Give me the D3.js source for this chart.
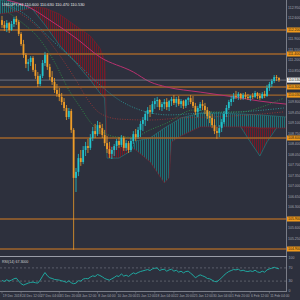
<!DOCTYPE html>
<html>
<head>
<meta charset="utf-8">
<script src="https://cdn.jsdelivr.net/npm/d3@7"></script>
<style>
html, body { margin: 0; padding: 0; background: #2d303d; }
svg { display: block; }
text { font-family: "Liberation Sans", Arial, sans-serif; }
</style>
</head>
<body>
<svg id="main_svg" width="300" height="300"></svg>
<script>
// USDJPY H4 (one entry = two H4 bars): open, high, low, close
const candles = [
  [112.53,112.67,112.27,112.37],[112.37,112.50,112.17,112.27],[112.27,112.53,112.13,112.43],[112.43,112.47,112.10,112.20],
  [112.20,112.50,112.17,112.40],[112.40,112.63,112.30,112.57],[112.57,112.67,112.37,112.47],[112.47,112.53,112.00,112.07],
  [112.07,112.13,111.67,111.73],[111.73,111.87,111.27,111.37],[111.37,111.43,110.93,111.07],[111.07,111.23,110.83,111.13],
  [111.13,111.33,111.00,111.27],[111.27,111.33,110.80,110.87],[110.87,111.07,110.57,110.67],[110.67,110.80,110.30,110.40],
  [110.40,110.73,110.33,110.67],[110.67,111.20,110.60,111.10],[111.10,111.47,111.00,111.37],[111.37,111.43,110.87,110.97],
  [110.97,111.07,110.53,110.63],[110.63,110.83,110.37,110.47],[110.47,110.60,110.10,110.20],[110.20,110.40,109.97,110.07],
  [110.07,110.27,109.83,109.97],[109.97,110.10,109.70,109.80],[109.80,109.93,109.50,109.60],[109.60,109.70,109.20,109.30],
  [109.30,109.60,109.23,109.50],[109.50,109.57,108.77,108.87],[108.87,108.93,104.87,107.27],[107.27,107.60,106.80,107.47],
  [107.47,108.07,107.33,107.93],[107.93,108.20,107.67,107.80],[107.80,108.33,107.73,108.20],[108.20,108.47,108.00,108.33],
  [108.33,108.57,108.10,108.27],[108.27,108.73,108.20,108.60],[108.60,108.97,108.50,108.83],[108.83,109.07,108.60,108.73],
  [108.73,109.17,108.67,109.03],[109.03,109.13,108.73,108.93],[108.93,109.07,108.60,108.70],[108.70,108.87,108.33,108.43],
  [108.43,108.67,108.10,108.23],[108.23,108.47,107.93,108.07],[108.07,108.30,107.90,108.20],[108.20,108.40,108.00,108.33],
  [108.33,108.57,108.20,108.50],[108.50,108.63,108.27,108.37],[108.37,108.70,108.30,108.60],[108.60,108.67,108.17,108.27],
  [108.27,108.53,108.17,108.43],[108.43,108.50,108.10,108.20],[108.20,108.60,108.13,108.50],[108.50,108.83,108.40,108.73],
  [108.73,108.90,108.50,108.63],[108.63,108.97,108.57,108.87],[108.87,109.17,108.63,109.07],[109.07,109.30,108.83,109.20],
  [109.20,109.50,109.00,109.40],[109.40,109.63,109.17,109.53],[109.53,109.70,109.30,109.47],[109.47,109.83,109.40,109.73],
  [109.73,109.93,109.57,109.83],[109.83,109.97,109.63,109.87],[109.87,109.90,109.53,109.63],[109.63,109.80,109.50,109.73],
  [109.73,109.90,109.57,109.80],[109.80,109.93,109.53,109.63],[109.63,109.87,109.50,109.83],[109.83,109.97,109.67,109.90],
  [109.90,110.03,109.70,109.77],[109.77,109.97,109.63,109.90],[109.90,110.00,109.67,109.73],[109.73,109.90,109.60,109.83],
  [109.83,109.87,109.57,109.67],[109.67,109.90,109.60,109.87],[109.87,109.97,109.70,109.93],[109.93,110.03,109.73,109.80],
  [109.80,110.00,109.60,109.67],[109.67,109.77,109.37,109.47],[109.47,109.67,109.30,109.60],[109.60,109.80,109.50,109.73],
  [109.73,109.87,109.53,109.67],[109.67,109.77,109.40,109.53],[109.53,109.63,109.23,109.33],[109.33,109.50,109.10,109.27],
  [109.27,109.40,108.93,109.03],[109.03,109.23,108.73,108.83],[108.83,108.97,108.57,108.77],[108.77,109.03,108.63,108.93],
  [108.93,109.23,108.80,109.13],[109.13,109.50,109.07,109.40],[109.40,109.70,109.30,109.60],[109.60,109.87,109.53,109.80],
  [109.80,110.00,109.67,109.90],[109.90,110.10,109.80,110.00],[110.00,110.17,109.90,109.97],[109.97,110.13,109.87,110.07],
  [110.07,110.10,109.87,109.93],[109.93,110.10,109.87,110.03],[110.03,110.13,109.90,109.97],[109.97,110.07,109.87,109.93],
  [109.93,110.03,109.83,110.00],[110.00,110.10,109.90,109.97],[109.97,110.17,109.93,110.10],[110.10,110.13,109.90,110.00],
  [110.00,110.10,109.87,109.93],[109.93,110.13,109.90,110.07],[110.07,110.17,109.93,110.00],[110.00,110.37,109.97,110.27],
  [110.27,110.47,110.17,110.40],[110.40,110.57,110.30,110.50],[110.50,110.70,110.43,110.63],[110.63,110.70,110.50,110.60],
  [110.60,110.63,110.47,110.53]
];

const rsi = [
  32,29,34,30,33,37,39,30,22,18,21,24,26,27,25,24,33,45,56,46,
  40,38,35,34,33,31,29,26,31,25,22,24,31,30,36,38,37,42,46,44,
  50,47,43,38,35,33,37,41,46,44,52,45,48,44,50,55,52,56,59,61,
  63,65,62,67,69,70,62,65,66,60,64,66,60,63,57,60,55,59,60,54,
  48,40,45,49,46,43,38,37,33,29,28,34,40,48,54,59,62,65,64,66,
  61,63,60,59,61,59,63,58,56,60,57,64,67,69,72,69,67.3
];

// horizontal support / resistance levels
const levels = [112.20, 111.40, 110.30, 110.03, 108.60, 105.90, 104.90];
const lastPrice = 110.53;

// scale labels (those hidden under the level labels are left out)
const priceTicks = [112.95, 112.60, 111.90, 111.55, 111.20, 110.85, 109.80, 109.45, 109.10,
  108.75, 108.40, 108.05, 107.70, 107.35, 107.00, 106.65, 106.30, 105.60, 105.25];

const dateTicks = [0, 8, 16, 24, 32, 40, 48, 56, 64, 72, 80, 88, 96, 104, 112];
const dateLabels = ["19 Dec 2018", "24 Dec 12:00", "27 Dec 04:00", "31 Dec 20:00", "3 Jan 12:00", "8 Jan 04:00",
  "10 Jan 20:00", "15 Jan 12:00", "18 Jan 04:00", "22 Jan 20:00", "25 Jan 12:00", "30 Jan 04:00",
  "1 Feb 20:00", "6 Feb 12:00", "11 Feb 04:00"];

const rsiTicks = [100, 70, 30, 0];
const rsiLevels = [70, 30];

// moving averages [bar, value]
const maMagenta = [[2,113.20],[12,112.93],[20,112.53],[31,111.93],[41,111.30],[55,110.80],[62,110.47],[69,110.30],[83,110.13],[97,109.97],[108,109.83],[119,109.73]];
const maTeal = [[0,113.10],[10,112.70],[20,111.93],[31,111.13],[41,110.37],[49,109.87],[58,109.53],[70,109.37],[83,109.43],[100,109.47],[118,109.60]];
const maRed = [[1,113.03],[16,112.20],[24,111.37],[31,110.53],[36,109.87],[41,109.43],[49,109.23],[62,109.20],[75,109.27],[87,109.30],[104,109.37],[118,109.47]];
const maGreen = [[1,112.87],[8,112.47],[16,111.87],[22,111.13],[28,110.20],[33,109.60],[37,109.13],[42,108.80],[49,108.63],[55,108.63],[62,108.87],[69,109.10],[80,109.53],[89,109.47],[100,109.47],[110,109.67],[118,109.93]];

// Ichimoku cloud
const kumoIdx = [-1, 5, 11, 13, 18, 24, 31, 37, 41, 43, 44, 49, 54, 56, 62, 68, 70, 71, 75, 83, 91, 100, 108, 119];
const senkouA = [113.20,113.13,113.00,112.87,112.37,111.70,111.10,110.53,110.10,109.93,107.93,107.93,108.17,108.50,108.60,108.93,109.03,109.07,109.27,109.43,109.43,109.40,109.37,109.30];
const senkouB = [112.73,112.80,112.90,112.97,112.93,112.73,112.33,112.00,111.60,111.20,108.33,108.27,108.27,108.20,107.80,107.10,107.27,108.47,108.67,108.97,108.97,108.97,108.93,108.93];
const kumo2Idx = [100, 104, 108, 111, 115];
const kumo2A = [108.97, 108.47, 108.00, 108.47, 108.93];
const kumo2B = [108.97, 108.97, 108.93, 108.93, 108.93];

const svg = d3.select("#main_svg");
const W = 286, H = 255;

const x = d3.scaleLinear().domain([0, 120]).range([2, 288.5]);
const y = d3.scaleLinear().domain([104.7, 113.2]).range([H, 0]);
const yR = d3.scaleLinear().domain([0, 100]).range([291, 258]);

svg.append("rect").attr("width", 300).attr("height", 300).attr("fill", "#2d303d");

const defs = svg.append("defs");
defs.append("clipPath").attr("id", "plot").append("rect").attr("width", W).attr("height", H);
defs.append("clipPath").attr("id", "rsiClip").append("rect").attr("y", 257).attr("width", W).attr("height", 35);
const hatch = (id, col) => {
  const p = defs.append("pattern").attr("id", id).attr("width", 2).attr("height", 4)
    .attr("patternUnits", "userSpaceOnUse");
  p.append("rect").attr("width", 1).attr("height", 4).attr("fill", col);
};
hatch("hatchRed", "#731a27");
hatch("hatchTeal", "#1d6f74");

const plot = svg.append("g").attr("clip-path", "url(#plot)");

function drawCloud(name, idx, a, b) {
  const pts = idx.map((d, k) => ({ i: d, a: a[k], b: b[k] }));
  const above = d3.area().x(d => x(d.i)).y0(0).y1(d => y(d.a));
  const below = d3.area().x(d => x(d.i)).y0(H).y1(d => y(d.a));
  const band = d3.area().x(d => x(d.i)).y0(d => y(d.a)).y1(d => y(d.b));
  defs.append("clipPath").attr("id", name + "-above").append("path").attr("d", above(pts));
  defs.append("clipPath").attr("id", name + "-below").append("path").attr("d", below(pts));
  const g = plot.append("g");
  g.append("path").attr("d", band(pts)).attr("clip-path", "url(#" + name + "-above)").attr("fill", "url(#hatchRed)");
  g.append("path").attr("d", band(pts)).attr("clip-path", "url(#" + name + "-below)").attr("fill", "url(#hatchTeal)");
  const ln = v => d3.line().x(d => x(d.i)).y(d => y(d[v]));
  g.append("path").attr("d", ln("a")(pts)).attr("fill", "none").attr("stroke", "#237f82").attr("stroke-width", 0.6);
  g.append("path").attr("d", ln("b")(pts)).attr("fill", "none").attr("stroke", "#7e1e2b").attr("stroke-width", 0.6);
}
drawCloud("kumo", kumoIdx, senkouA, senkouB);
drawCloud("kumo2", kumo2Idx, kumo2A, kumo2B);

// level lines
plot.selectAll("line.level").data(levels).join("line")
  .attr("x1", 0).attr("x2", W)
  .attr("y1", d => y(d)).attr("y2", d => y(d))
  .attr("stroke", "#a0652b").attr("stroke-width", 1.3);

// moving averages
const maLine = d3.line().curve(d3.curveMonotoneX).x(d => x(d[0])).y(d => y(d[1]));
plot.append("path").attr("d", maLine(maMagenta)).attr("fill", "none").attr("stroke", "#b8306f").attr("stroke-width", 1);
plot.append("path").attr("d", maLine(maTeal)).attr("fill", "none").attr("stroke", "#2a9898").attr("stroke-width", 0.9).attr("stroke-dasharray", "1,1.5");
plot.append("path").attr("d", maLine(maRed)).attr("fill", "none").attr("stroke", "#9c3636").attr("stroke-width", 0.9).attr("stroke-dasharray", "1,1.5");
plot.append("path").attr("d", maLine(maGreen)).attr("fill", "none").attr("stroke", "#2e8f45").attr("stroke-width", 0.9).attr("stroke-dasharray", "1,1.5");

// current price line
plot.append("line").attr("x1", 0).attr("x2", W).attr("y1", y(lastPrice)).attr("y2", y(lastPrice))
  .attr("stroke", "#7d808b").attr("stroke-width", 0.8);

// candles
const bull = "#22c3cc", bear = "#ee9c28";
const cg = plot.append("g");
cg.selectAll("line").data(candles).join("line")
  .attr("x1", (d, i) => x(i)).attr("x2", (d, i) => x(i))
  .attr("y1", d => y(d[1])).attr("y2", d => y(d[2]))
  .attr("stroke", d => d[3] >= d[0] ? bull : bear).attr("stroke-width", 0.8);
cg.selectAll("rect").data(candles).join("rect")
  .attr("x", (d, i) => x(i) - 0.9).attr("width", 1.8)
  .attr("y", d => y(Math.max(d[0], d[3])))
  .attr("height", d => Math.max(0.8, Math.abs(y(d[0]) - y(d[3]))))
  .attr("fill", d => d[3] >= d[0] ? bull : bear);

// frames
const frame = "#7a7d88";
svg.append("line").attr("x1", 286.5).attr("x2", 286.5).attr("y1", 0).attr("y2", 291).attr("stroke", frame);
svg.append("line").attr("x1", 0).attr("x2", 287).attr("y1", 256.5).attr("y2", 256.5).attr("stroke", "#9a9da8");
svg.append("line").attr("x1", 0).attr("x2", 287).attr("y1", 291.5).attr("y2", 291.5).attr("stroke", frame);

// price axis
const axisCol = "#a3a6b0";
const fs = 3.5;
svg.append("g").selectAll("text").data(priceTicks).join("text")
  .attr("x", 288).attr("y", d => y(d) + 1.2)
  .attr("font-size", fs).attr("fill", axisCol)
  .text(d => d.toFixed(3));

const lbl = svg.append("g");
levels.forEach(v => {
  lbl.append("rect").attr("x", 287).attr("y", y(v) - 2.5).attr("width", 13).attr("height", 5).attr("fill", "#f29a1c");
  lbl.append("text").attr("x", 288).attr("y", y(v) + 1.3).attr("font-size", fs).attr("fill", "#1a1a1a").text(v.toFixed(3));
});
lbl.append("rect").attr("x", 287).attr("y", y(lastPrice) - 2.5).attr("width", 13).attr("height", 5).attr("fill", "#f2f2f2");
lbl.append("text").attr("x", 288).attr("y", y(lastPrice) + 1.3).attr("font-size", fs).attr("fill", "#1a1a1a").text(lastPrice.toFixed(3));

// title
const last = candles[candles.length - 1];
svg.append("text").attr("x", 2).attr("y", 5.5).attr("font-size", 4).attr("fill", "#e6e6e6")
  .text("USDJPY,H4  " + last.map(v => v.toFixed(3)).join(" "));

// RSI panel
const rg = svg.append("g").attr("clip-path", "url(#rsiClip)");
rg.selectAll("line").data(rsiLevels).join("line")
  .attr("x1", 0).attr("x2", W).attr("y1", d => yR(d)).attr("y2", d => yR(d))
  .attr("stroke", "#6f727d").attr("stroke-width", 0.7).attr("stroke-dasharray", "2,2");
rg.append("path").datum(rsi)
  .attr("d", d3.line().x((d, i) => x(i)).y(d => yR(d)))
  .attr("fill", "none").attr("stroke", "#1fa8a0").attr("stroke-width", 1);
svg.append("text").attr("x", 2).attr("y", 262.5).attr("font-size", 3.6).attr("fill", "#d0d0d0")
  .text("RSI(14) " + rsi[rsi.length - 1].toFixed(4));
svg.append("g").selectAll("text").data(rsiTicks).join("text")
  .attr("x", 288.5).attr("y", d => yR(d) + 1.2)
  .attr("font-size", fs).attr("fill", axisCol).text(d => d);

// time axis
const tg = svg.append("g");
tg.selectAll("line").data(dateTicks).join("line")
  .attr("x1", d => x(d)).attr("x2", d => x(d)).attr("y1", 291).attr("y2", 293.5)
  .attr("stroke", frame).attr("stroke-width", 0.6);
tg.selectAll("text").data(dateTicks).join("text")
  .attr("x", d => x(d) + 0.8).attr("y", 297)
  .attr("font-size", 3.3).attr("fill", axisCol)
  .text((d, i) => dateLabels[i]);
</script>
</body>
</html>
